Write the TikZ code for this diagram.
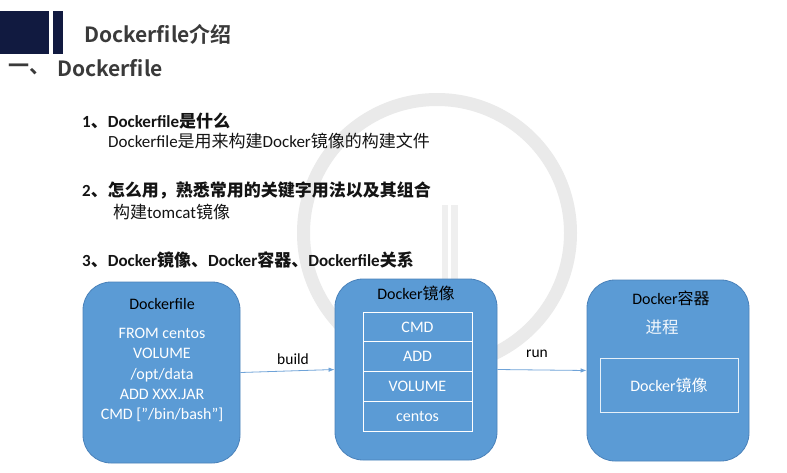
\documentclass[tikz,border=0pt]{standalone}
\usepackage{fontspec}
\usetikzlibrary{arrows.meta}
\setmainfont{Carlito}
\newfontfamily\cjk{Noto Sans CJK SC}
\newfontfamily\cjkb{Noto Sans CJK SC Bold}
\newcommand\zh[1]{{\cjk #1}}
\newcommand\zhb[1]{{\cjkb #1}}
\definecolor{navy}{HTML}{111A40}
\definecolor{boxblue}{HTML}{5B9BD5}
\definecolor{boxedge}{HTML}{4A82BA}
\definecolor{ringgray}{HTML}{EAEAEA}
\definecolor{bargray}{HTML}{EFEFEF}
\definecolor{titlegray}{HTML}{3A3A3A}
\definecolor{arrowblue}{HTML}{6FA3D8}
\tikzset{
  bigbox/.style={draw=boxedge, line width=0.8pt, fill=boxblue, rounded corners=28pt, inner sep=0pt},
  layer/.style={draw=white, line width=0.8pt, minimum width=109pt, minimum height=29.75pt, inner sep=0pt, text=white, font=\fontsize{16}{19}\selectfont},
  boxtitle/.style={text=black, font=\fontsize{16}{19}\selectfont, inner sep=0pt},
  boxtext/.style={text=white, font=\fontsize{16}{20.2}\selectfont, align=center, inner sep=0pt},
  item/.style={anchor=west, inner sep=0pt, text=black!92, font=\fontsize{17}{20}\selectfont},
  arrowline/.style={draw=arrowblue, line width=0.8pt, -{Latex[length=6pt,width=4.5pt]}},
  arrlabel/.style={text=black, font=\fontsize{15.5}{18}\selectfont, inner sep=0pt}
}
\begin{document}
\begin{tikzpicture}[x=1pt,y=-1pt]
\useasboundingbox (0,0) rectangle (787,472);
\fill[white] (0,0) rectangle (787,472);
% watermark
\draw[ringgray, line width=13pt] (437,233) circle (133.5);
\fill[bargray] (442,205) rectangle (448,285);
\fill[bargray] (451,205) rectangle (458,285);
% header
\fill[navy] (0,11) rectangle (49,54);
\fill[navy] (53,11) rectangle (63,54);
\node[anchor=west, inner sep=0pt, text=titlegray, font=\fontsize{21}{24}\selectfont] (title) at (84,34) {\zhb{Dockerfile介绍}};
\node[anchor=west, inner sep=0pt, text=titlegray, font=\fontsize{21}{24}\selectfont] (sec) at (8,69) {\zhb{一、}};
\node[anchor=west, inner sep=0pt, text=titlegray, font=\fontsize{21}{24}\selectfont] (secname) at (57,68) {\zhb{Dockerfile}};
% list
\node[item] (i1) at (82,121) {\bfseries 1\zhb{、}Dockerfile\zhb{是什么}};
\node[item] (i1b) at (108,141) {Dockerfile\zh{是用来构建}Docker\zh{镜像的构建文件}};
\node[item] (i2) at (82,190) {\bfseries 2\zhb{、怎么用，熟悉常用的关键字用法以及其组合}};
\node[item] (i2b) at (113,212) {\zh{构建}tomcat\zh{镜像}};
\node[item] (i3) at (82,260) {\bfseries 3\zhb{、}Docker\zhb{镜像、}Docker\zhb{容器、}Dockerfile\zhb{关系}};
% boxes
\node[bigbox, minimum width=157pt, minimum height=181pt] (df) at (161.5,372.5) {};
\node[bigbox, minimum width=162pt, minimum height=181pt] (img) at (416,369.5) {};
\node[bigbox, minimum width=162pt, minimum height=181pt] (ctr) at (668,370.5) {};
% box 1 content
\node[boxtitle] (dft) at (162,304) {Dockerfile};
\node[boxtext] (dfx) at (162,375) {FROM centos\\VOLUME\\/opt/data\\ADD XXX.JAR\\CMD [”/bin/bash”]};
% box 2 content
\node[boxtitle] (imgt) at (416,293) {Docker\zh{镜像}};
\node[layer] (cmd) at (417.5,326.875) {CMD};
\node[layer] (add) at (417.5,356.625) {ADD};
\node[layer] (vol) at (417.5,386.375) {VOLUME};
\node[layer] (cen) at (417.5,416.125) {centos};
% box 3 content
\node[boxtitle] (ctrt) at (671,298) {Docker\zh{容器}};
\node[inner sep=0pt, text=white!92!boxblue, font=\fontsize{16.5}{19}\selectfont] (proc) at (662,327) {\zh{进程}};
\node[draw=white!85!boxblue, line width=0.8pt, minimum width=138pt, minimum height=54pt, inner sep=0pt, text=white, font=\fontsize{16}{19}\selectfont] (inner) at (669,385) {Docker\zh{镜像}};
% arrows
\draw[arrowline] (df.east) -- (img.west);
\draw[arrowline] (img.east) -- (ctr.west);
\node[arrlabel] (lb) at (293,359) {build};
\node[arrlabel] (lr) at (537,354) {run};
\end{tikzpicture}
\end{document}
